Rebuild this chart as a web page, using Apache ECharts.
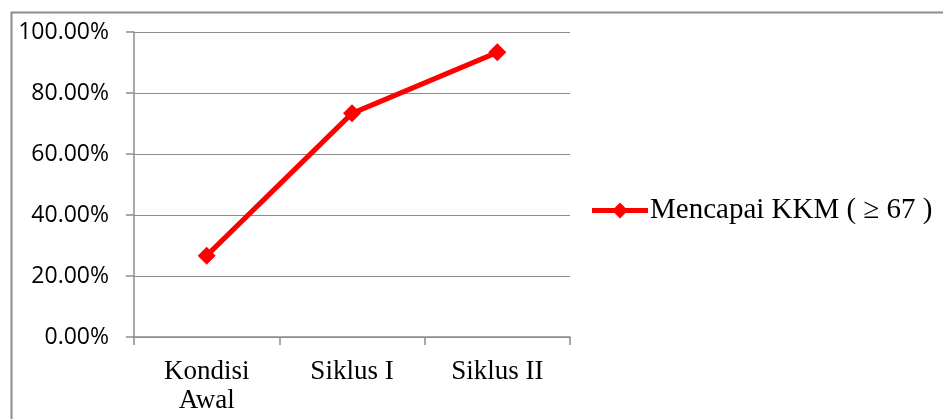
<!DOCTYPE html>
<html>
<head>
<meta charset="utf-8">
<script src="https://cdn.jsdelivr.net/npm/echarts@6/dist/echarts.min.js"></script>
<style>
  html, body { margin: 0; padding: 0; background: #fff; }
  #chart { width: 943px; height: 419px; }
</style>
</head>
<body>
<div id="chart"></div>
<script>
// data
const categories = ["Kondisi\nAwal", "Siklus I", "Siklus II"];
const seriesName = "Mencapai KKM ( \u2265 67 )";
const values = [26.67, 73.33, 93.33];

let myChart = echarts.init(document.getElementById("chart"));

let option = {
  animation: false,
  graphic: [
    {
      type: "rect",
      shape: { x: 11.5, y: 12.5, width: 940, height: 420 },
      style: { fill: "none", stroke: "#8c8c8c", lineWidth: 2 }
    }
  ],
  grid: { left: 134, top: 32, width: 436, height: 305 },
  legend: {
    left: 587,
    top: 191,
    icon: "path://M0,5.5 L22.5,5.5 L28,0 L33.5,5.5 L56,5.5 L56,10.5 L33.5,10.5 L28,16 L22.5,10.5 L0,10.5 Z",
    itemWidth: 56,
    itemHeight: 16,
    textStyle: { fontFamily: "Liberation Serif", fontSize: 29, color: "#000", padding: [0, 0, 0, -3] },
    data: [seriesName]
  },
  xAxis: {
    type: "category",
    data: categories,
    boundaryGap: true,
    axisLine: { lineStyle: { color: "#8c8c8c", width: 1.5 } },
    axisTick: { show: true, length: 8, lineStyle: { color: "#8c8c8c", width: 1.5 } },
    axisLabel: {
      margin: 20,
      fontFamily: "Liberation Serif",
      fontSize: 27,
      color: "#000",
      lineHeight: 29
    }
  },
  yAxis: {
    type: "value",
    min: 0,
    max: 100,
    interval: 20,
    axisLine: { show: true, lineStyle: { color: "#8c8c8c", width: 1.5 } },
    axisTick: { show: true, length: 8, lineStyle: { color: "#8c8c8c", width: 1.5 } },
    splitLine: { lineStyle: { color: "#8c8c8c", width: 1 } },
    axisLabel: {
      margin: 25,
      fontFamily: "Open Sans",
      fontSize: 23,
      color: "#000",
      formatter: v => v.toFixed(2) + "%"
    }
  },
  series: [
    {
      name: seriesName,
      type: "line",
      data: values,
      symbol: "path://M0,5 L5,0 L10,5 L5,10 Z",
      symbolSize: 18,
      itemStyle: { color: "#ff0000" },
      lineStyle: { color: "#ff0000", width: 5 }
    }
  ]
};

myChart.setOption(option);
</script>
</body>
</html>
